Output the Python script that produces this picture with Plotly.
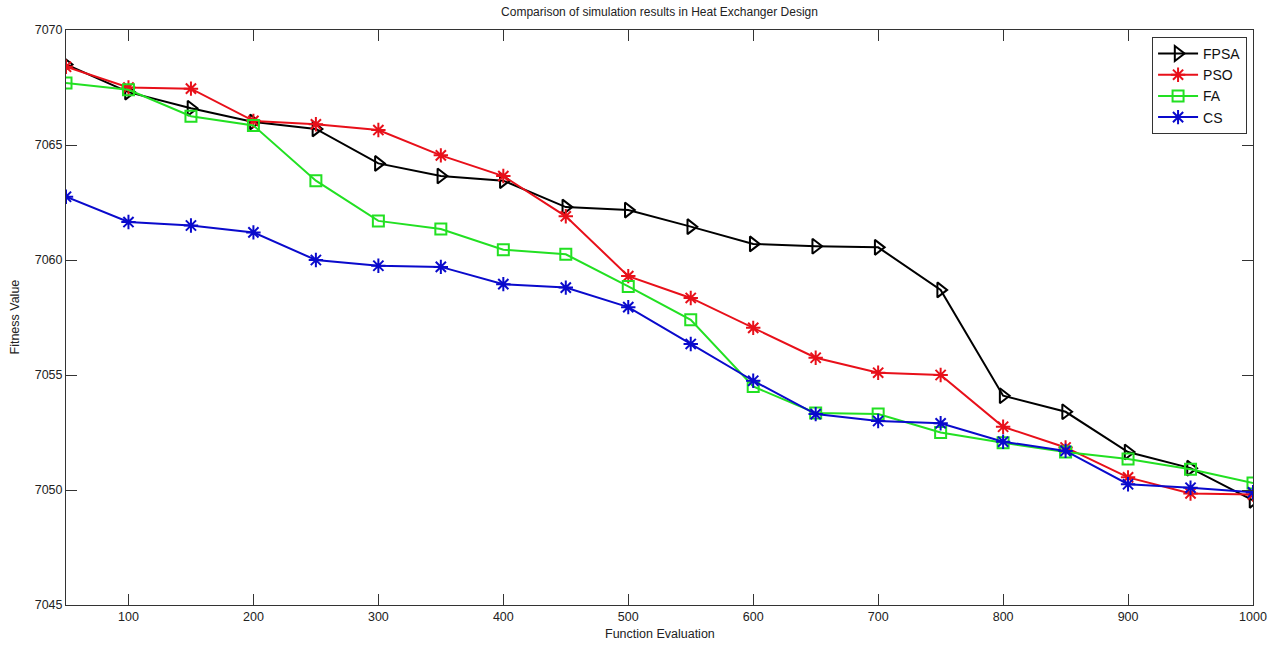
import plotly.graph_objects as go

evals = [50, 100, 150, 200, 250, 300, 350, 400, 450, 500, 550, 600, 650, 700, 750, 800, 850, 900, 950, 1000]
fpsa = [7068.5, 7067.3, 7066.6, 7066.0, 7065.7, 7064.2, 7063.65, 7063.45, 7062.3, 7062.17, 7061.45, 7060.7,
        7060.6, 7060.55, 7058.7, 7054.1, 7053.4, 7051.65, 7050.95, 7049.55]
pso = [7068.4, 7067.5, 7067.45, 7066.05, 7065.9, 7065.65, 7064.55, 7063.65, 7061.9, 7059.3, 7058.35, 7057.05,
       7055.75, 7055.1, 7055.0, 7052.75, 7051.85, 7050.55, 7049.85, 7049.8]
fa = [7067.7, 7067.4, 7066.25, 7065.85, 7063.45, 7061.7, 7061.35, 7060.45, 7060.25, 7058.85, 7057.4, 7054.5,
      7053.35, 7053.3, 7052.5, 7052.05, 7051.65, 7051.35, 7050.9, 7050.3]
cs = [7062.75, 7061.65, 7061.5, 7061.2, 7060.0, 7059.75, 7059.7, 7058.95, 7058.8, 7057.95, 7056.35, 7054.75,
      7053.3, 7053.0, 7052.9, 7052.1, 7051.7, 7050.25, 7050.1, 7049.9]

x_ticks = [100, 200, 300, 400, 500, 600, 700, 800, 900, 1000]
y_ticks = [7045, 7050, 7055, 7060, 7065, 7070]

series = [
    ("FPSA", fpsa, "#000000", "triangle-right-open", 13),
    ("PSO", pso, "#e8101a", "asterisk-open", 12),
    ("FA", fa, "#22e022", "square-open", 11),
    ("CS", cs, "#0a0acc", "asterisk-open", 12),
]

fig = go.Figure()
for name, vals, color, sym, size in series:
    fig.add_trace(go.Scatter(
        x=evals, y=vals, name=name, mode="lines+markers",
        line=dict(color=color, width=2),
        marker=dict(symbol=sym, size=size, color=color, line=dict(color=color, width=2)),
    ))

font = "Liberation Sans, Arial, sans-serif"
fig.update_layout(
    width=1275, height=648,
    margin=dict(l=66, r=22, t=30, b=43),
    paper_bgcolor="white", plot_bgcolor="white",
    font=dict(family=font, size=12, color="#222"),
    title=dict(text="Comparison of simulation results in Heat Exchanger Design",
               x=0.5, xref="paper", xanchor="center", y=0.982, yanchor="middle",
               font=dict(size=12, color="#222")),
    showlegend=True,
    legend=dict(x=0.995, y=0.988, xanchor="right", yanchor="top",
                bordercolor="#333", borderwidth=1, bgcolor="white",
                font=dict(size=14, color="#111"), tracegroupgap=0, itemwidth=40),
    annotations=[
        dict(text="Function Evaluation", xref="paper", yref="paper", x=0.5, y=-0.0504,
             xanchor="center", yanchor="middle", showarrow=False, font=dict(size=12.5, color="#222")),
        dict(text="Fitness Value", xref="paper", yref="paper", x=-0.0438, y=0.5, textangle=-90,
             xanchor="center", yanchor="middle", showarrow=False, font=dict(size=12.5, color="#222")),
    ],
)
fig.update_xaxes(range=[50, 1000], tickvals=x_ticks, ticks="inside", ticklen=11, tickcolor="#333",
                 showline=True, linecolor="#333", linewidth=1, mirror="ticks", showgrid=False,
                 zeroline=False, tickfont=dict(size=12.5), automargin=False)
fig.update_yaxes(range=[7045, 7070], tickvals=y_ticks, ticks="inside", ticklen=11, tickcolor="#333",
                 showline=True, linecolor="#333", linewidth=1, mirror="ticks", showgrid=False,
                 zeroline=False, tickfont=dict(size=12.5), automargin=False)

fig.write_html("out.html")
